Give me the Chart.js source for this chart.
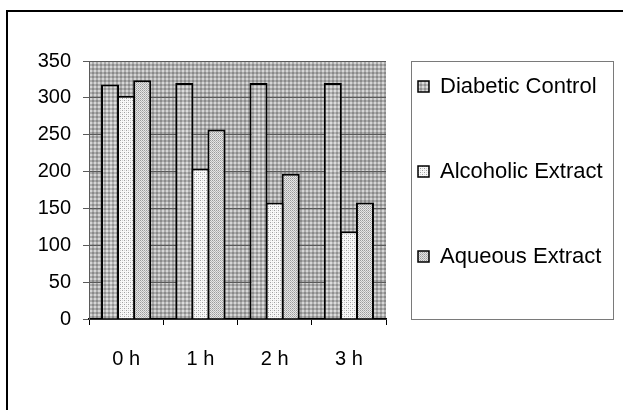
<!DOCTYPE html>
<html>
<head>
<meta charset="utf-8">
<script src="https://cdn.jsdelivr.net/npm/chart.js@4/dist/chart.umd.min.js"></script>
<style>
  html, body { margin: 0; padding: 0; background: #ffffff; }
  #wrap { position: relative; width: 623px; height: 410px; }
  canvas { display: block; }
</style>
</head>
<body>
<div id="wrap"><canvas id="c" width="623" height="410"></canvas></div>
<script>
// ---- data ----
const categories = ['0 h', '1 h', '2 h', '3 h'];
const seriesNames = ['Diabetic Control', 'Alcoholic Extract', 'Aqueous Extract'];
const diabeticControl = [318, 320, 320, 320];
const alcoholicExtract = [303, 204, 158, 119];
const aqueousExtract = [324, 257, 197, 158];
const yTicks = [0, 50, 100, 150, 200, 250, 300, 350];

// ---- font detection ----
function hasFont(name) {
  const ctx = document.createElement('canvas').getContext('2d');
  const s = 'abcdefghijklmnopqrstuvwxyz0123456789';
  ctx.font = '40px monospace';
  const a = ctx.measureText(s).width;
  ctx.font = "40px '" + name + "', monospace";
  return ctx.measureText(s).width !== a;
}
let tickFamily = "'Liberation Sans', Arial, sans-serif";
let tickSize = 20;
if (hasFont('Liberation Sans Narrow')) { tickFamily = "'Liberation Sans Narrow', 'Liberation Sans', Arial, sans-serif"; tickSize = 23; }
else if (hasFont('Arial Narrow')) { tickFamily = "'Arial Narrow', 'Liberation Sans', Arial, sans-serif"; tickSize = 23; }
const legendFamily = "'Liberation Sans', Arial, sans-serif";

// ---- patterns ----
function makePattern(size, colorFn) {
  const c = document.createElement('canvas');
  c.width = size; c.height = size;
  const g = c.getContext('2d');
  for (let y = 0; y < size; y++) {
    for (let x = 0; x < size; x++) {
      g.fillStyle = colorFn(x, y);
      g.fillRect(x, y, 1, 1);
    }
  }
  return g.createPattern(c, 'repeat');
}
const bgPattern = makePattern(4, (x, y) => {
  const n = (x < 2 ? 1 : 0) + (y < 2 ? 1 : 0);
  return ['#d6d6d6', '#acacac', '#8a8a8a'][n];
});
const diabeticPattern = makePattern(4, (x, y) => {
  const n = (x < 2 ? 1 : 0) + (y < 2 ? 1 : 0);
  return ['#dcdcdc', '#b4b4b4', '#909090'][n];
});
const alcoholicPattern = makePattern(4, (x, y) => {
  if ((x === 0 && y === 0) || (x === 2 && y === 2)) return '#a0a0a0';
  if ((x === 2 && y === 0) || (x === 0 && y === 2)) return '#d4d4d4';
  return '#f8f8f8';
});
const aqueousPattern = makePattern(4, (x, y) => {
  if ((x + y) % 2 === 0) return (x % 2 === 0) ? '#9c9c9c' : '#b8b8b8';
  return '#e6e6e6';
});
const patterns = [diabeticPattern, alcoholicPattern, aqueousPattern];

// ---- plugins ----
const framePlugin = {
  id: 'frame',
  beforeDraw(chart) {
    const { ctx, chartArea } = chart;
    ctx.save();
    ctx.fillStyle = '#ffffff';
    ctx.fillRect(0, 0, chart.width, chart.height);
    ctx.fillStyle = '#000000';
    ctx.fillRect(6, 10, chart.width, 2);
    ctx.fillRect(6, 10, 2, chart.height);
    ctx.fillStyle = bgPattern;
    ctx.fillRect(chartArea.left, chartArea.top, chartArea.right - chartArea.left, chartArea.bottom - chartArea.top);
    ctx.restore();
  }
};
const legendPlugin = {
  id: 'boxLegend',
  afterDraw(chart) {
    const { ctx, chartArea } = chart;
    ctx.save();
    ctx.strokeStyle = '#7a7a7a';
    ctx.lineWidth = 1;
    ctx.strokeRect(411.5, chartArea.top + 0.5, 202, chartArea.bottom - chartArea.top);
    ctx.font = '22px ' + legendFamily;
    ctx.textBaseline = 'middle';
    ctx.textAlign = 'left';
    chart.data.datasets.forEach((ds, i) => {
      const cy = 86 + 85 * i;
      ctx.fillStyle = ds.backgroundColor;
      ctx.fillRect(418, cy - 5, 11, 11);
      ctx.strokeStyle = '#000000';
      ctx.lineWidth = 1.5;
      ctx.strokeRect(418, cy - 5, 11, 11);
      ctx.fillStyle = '#000000';
      ctx.fillText(ds.label, 440, cy + 1);
    });
    ctx.restore();
  }
};

const seriesValues = [diabeticControl, alcoholicExtract, aqueousExtract];
const datasets = seriesNames.map((name, i) => ({
  label: name,
  data: seriesValues[i],
  backgroundColor: patterns[i],
  borderColor: '#000000',
  borderWidth: 2,
  borderSkipped: 'start',
  categoryPercentage: 0.65,
  barPercentage: 1.12
}));

new Chart(document.getElementById('c'), {
  type: 'bar',
  data: { labels: categories, datasets },
  options: {
    responsive: false,
    animation: false,
    devicePixelRatio: 1,
    layout: { padding: { left: 10, top: 61, right: 237, bottom: 0 } },
    plugins: {
      legend: { display: false },
      tooltip: { enabled: false },
      title: { display: false }
    },
    scales: {
      x: {
        afterFit(scale) { scale.height = 91; },
        grid: {
          offset: true,
          drawOnChartArea: false,
          drawTicks: true,
          tickLength: 6,
          color: '#000000',
          lineWidth: 1
        },
        border: { display: true, color: '#000000', width: 1.5 },
        ticks: {
          color: '#000000',
          font: { family: tickFamily, size: tickSize },
          padding: 22,
          maxRotation: 0
        }
      },
      y: {
        min: 0,
        max: 350,
        afterFit(scale) { scale.width = 79; },
        afterBuildTicks(scale) { scale.ticks = yTicks.map(v => ({ value: v })); },
        grid: {
          color: '#5a5a5a',
          lineWidth: 1,
          drawTicks: true,
          tickLength: 6
        },
        border: { display: true, color: '#5a5a5a', width: 1 },
        ticks: {
          color: '#000000',
          font: { family: tickFamily, size: tickSize },
          padding: 12
        }
      }
    }
  },
  plugins: [framePlugin, legendPlugin]
});
</script>
</body>
</html>
